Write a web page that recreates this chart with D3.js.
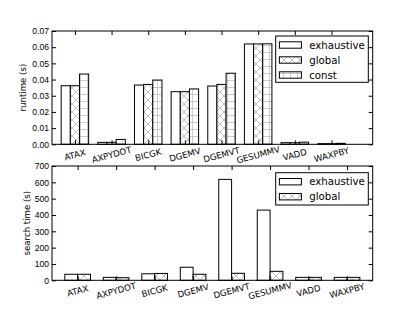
<!DOCTYPE html>
<html>
<head>
<meta charset="utf-8">
<script src="https://cdn.jsdelivr.net/npm/d3@7"></script>
<style>
  body { margin: 0; background: #fff; }
  svg { font-family: "DejaVu Sans", sans-serif; }
</style>
</head>
<body>
<div id="chart"></div>
<script>
const categories = ["ATAX", "AXPYDOT", "BICGK", "DGEMV", "DGEMVT", "GESUMMV", "VADD", "WAXPBY"];

const runtimeExhaustive = [0.0362, 0.0012, 0.0366, 0.0325, 0.0360, 0.0620, 0.0010, 0.0004];
const runtimeGlobal     = [0.0362, 0.0012, 0.0370, 0.0325, 0.0370, 0.0620, 0.0010, 0.0004];
const runtimeConst      = [0.0434, 0.0030, 0.0397, 0.0342, 0.0439, 0.0621, 0.0013, 0.0006];

const searchExhaustive = [37, 18, 40, 80, 618, 430, 18, 18];
const searchGlobal     = [37, 16, 42, 37, 43, 55, 18, 18];

const runtimeTicks = [0, 0.01, 0.02, 0.03, 0.04, 0.05, 0.06, 0.07];
const searchTicks = [0, 100, 200, 300, 400, 500, 600, 700];

const W = 415, H = 312;
const svg = d3.select("#chart").append("svg")
    .attr("width", W)
    .attr("height", H);

const defs = svg.append("defs");

// cross hatch for "global"
const px = defs.append("pattern")
    .attr("id", "hatch-x")
    .attr("patternUnits", "userSpaceOnUse")
    .attr("width", 8).attr("height", 8);
px.append("rect").attr("width", 8).attr("height", 8).attr("fill", "#fff");
px.append("path")
    .attr("d", "M0,0L8,8M8,0L0,8M-1,7L1,9M7,-1L9,1M-1,1L1,-1M7,9L9,7")
    .attr("stroke", "#999").attr("stroke-width", 0.6);

// plus hatch for "const"
const pp = defs.append("pattern")
    .attr("id", "hatch-plus")
    .attr("patternUnits", "userSpaceOnUse")
    .attr("width", 7).attr("height", 7);
pp.append("rect").attr("width", 7).attr("height", 7).attr("fill", "#fff");
pp.append("path")
    .attr("d", "M3.5,0V7M0,3.5H7")
    .attr("stroke", "#aaa").attr("stroke-width", 0.6);

const fills = { exhaustive: "#fff", global: "url(#hatch-x)", const: "url(#hatch-plus)" };

function drawPanel(opts) {
    const { top, bottom, left, right, series, names, ticks, fmt, yMax, xDomain, barW, label, legend } = opts;

    const x = d3.scaleLinear().domain(xDomain).range([left, right]);
    const y = d3.scaleLinear().domain([0, yMax]).range([bottom, top]);
    const n = series.length;
    const tickPos = categories.map((c, i) => i + barW * n / 2);

    const g = svg.append("g");

    series.forEach((vals, k) => {
        g.selectAll(null)
            .data(vals)
            .enter()
            .append("rect")
            .attr("x", (d, i) => x(i + k * barW))
            .attr("y", d => y(d))
            .attr("width", x(barW) - x(0))
            .attr("height", d => y(0) - y(d))
            .attr("fill", fills[names[k]])
            .attr("stroke", "#000")
            .attr("stroke-width", 1);
    });

    // frame
    g.append("rect")
        .attr("x", left).attr("y", top)
        .attr("width", right - left).attr("height", bottom - top)
        .attr("fill", "none").attr("stroke", "#000").attr("stroke-width", 1);

    // y ticks left with labels
    const yl = g.append("g")
        .attr("transform", `translate(${left},0)`)
        .call(d3.axisLeft(y).tickValues(ticks).tickFormat(fmt).tickSize(-4).tickPadding(3));
    yl.select(".domain").remove();
    yl.selectAll("text").attr("font-size", 8.6).attr("fill", "#000");

    const yr = g.append("g")
        .attr("transform", `translate(${right},0)`)
        .call(d3.axisRight(y).tickValues(ticks).tickFormat("").tickSize(-4));
    yr.select(".domain").remove();

    // x ticks top/bottom
    const xb = g.append("g")
        .attr("transform", `translate(0,${bottom})`)
        .call(d3.axisBottom(x).tickValues(tickPos).tickFormat("").tickSize(-4));
    xb.select(".domain").remove();
    const xt = g.append("g")
        .attr("transform", `translate(0,${top})`)
        .call(d3.axisTop(x).tickValues(tickPos).tickFormat("").tickSize(-4));
    xt.select(".domain").remove();

    // rotated category labels
    g.selectAll(null)
        .data(categories)
        .enter()
        .append("text")
        .attr("transform", (d, i) => `translate(${x(tickPos[i])},${bottom + 10.5}) rotate(-15)`)
        .attr("text-anchor", "middle")
        .attr("dominant-baseline", "central")
        .attr("font-size", 8.6)
        .text(d => d);

    // y label
    g.append("text")
        .attr("transform", `translate(${label.x},${(top + bottom) / 2}) rotate(-90)`)
        .attr("text-anchor", "middle")
        .attr("dominant-baseline", "central")
        .attr("font-size", 8.6)
        .text(label.text);

    // legend
    const lg = g.append("g");
    lg.append("rect")
        .attr("x", legend.x).attr("y", legend.y)
        .attr("width", legend.w).attr("height", legend.h)
        .attr("fill", "#fff").attr("stroke", "#000").attr("stroke-width", 1);
    names.forEach((name, k) => {
        const cy = legend.y + 9 + k * 15;
        lg.append("rect")
            .attr("x", legend.x + 3.7).attr("y", cy - 3.2)
            .attr("width", 22).attr("height", 6.4)
            .attr("fill", fills[name]).attr("stroke", "#000").attr("stroke-width", 1);
        lg.append("text")
            .attr("x", legend.x + 33.5).attr("y", cy)
            .attr("dominant-baseline", "central")
            .attr("font-size", 10.2)
            .text(name);
    });
}

drawPanel({
    top: 31, bottom: 144.3, left: 52, right: 372.7,
    series: [runtimeExhaustive, runtimeGlobal, runtimeConst],
    names: ["exhaustive", "global", "const"],
    ticks: runtimeTicks, fmt: d3.format(".2f"), yMax: 0.07,
    xDomain: [-0.25, 8.5], barW: 0.25,
    label: { x: 23, text: "runtime (s)" },
    legend: { x: 275.7, y: 36, w: 92.6, h: 46.3 }
});

drawPanel({
    top: 166, bottom: 280.3, left: 52, right: 372.7,
    series: [searchExhaustive, searchGlobal],
    names: ["exhaustive", "global"],
    ticks: searchTicks, fmt: d3.format("d"), yMax: 700,
    xDomain: [-1 / 3, 8], barW: 1 / 3,
    label: { x: 26.5, text: "search time (s)" },
    legend: { x: 275.7, y: 172.7, w: 92.6, h: 32.3 }
});
</script>
</body>
</html>
